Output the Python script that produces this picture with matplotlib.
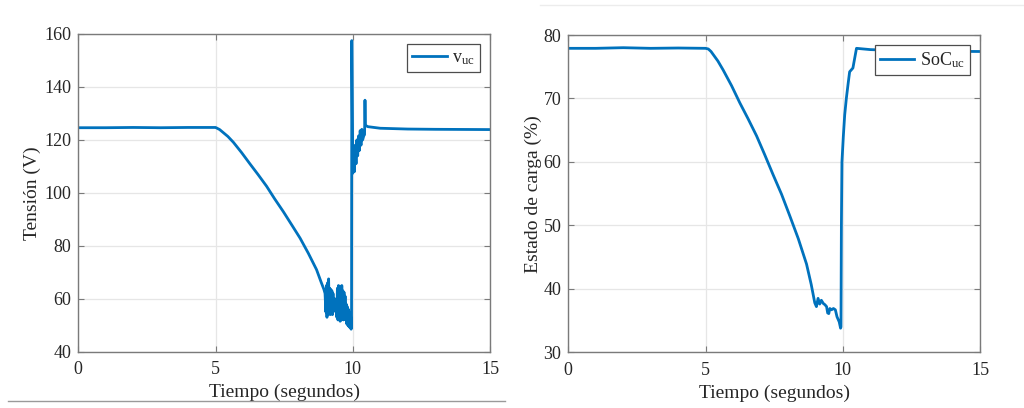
import matplotlib
matplotlib.use("Agg")
import matplotlib.pyplot as plt
from matplotlib.lines import Line2D

plt.rcParams['font.family'] = ['Liberation Serif', 'DejaVu Serif']
plt.rcParams['mathtext.fontset'] = 'custom'
plt.rcParams['mathtext.rm'] = 'Liberation Serif'
plt.rcParams['mathtext.it'] = 'Liberation Serif:italic'

# ---- Left panel: voltage ----
t_v = [0, 1, 2, 3, 4, 5.0, 5.04, 5.15, 5.3, 5.45, 5.65, 5.95, 6.25, 6.55, 6.86, 7.15,
       7.47, 7.77, 8.08, 8.38, 8.68, 8.85, 8.95,
       8.99, 9.02, 9.04, 9.06, 9.08, 9.10, 9.12, 9.14, 9.16, 9.18, 9.20, 9.22, 9.24,
       9.26, 9.28, 9.30, 9.32, 9.34, 9.36, 9.38, 9.40, 9.42, 9.44, 9.46, 9.48, 9.50,
       9.52, 9.54, 9.56, 9.58, 9.60, 9.62, 9.64, 9.66, 9.68, 9.70, 9.72, 9.74, 9.76,
       9.78, 9.80, 9.82, 9.84, 9.86, 9.88, 9.90, 9.92, 9.94, 9.955,
       9.965, 10.0, 10.03, 10.06, 10.09, 10.12, 10.15, 10.18, 10.21, 10.24, 10.27,
       10.30, 10.33, 10.36, 10.40, 10.43, 10.445, 10.46, 10.55, 11, 12, 13, 15]
v_uc = [124.6, 124.6, 124.7, 124.6, 124.7, 124.7, 124.5, 123.9, 122.6, 121.3, 119.1,
        115.2, 111.0, 106.9, 102.5, 97.8, 92.9, 88.0, 82.9, 77.2, 71.0, 66.2, 63.5,
        62, 55, 65, 53, 66, 54, 67.5, 55, 64, 54, 63.5, 55.5, 63,
        54, 62, 56, 60, 57.5, 59, 55, 60, 53, 64, 52, 65, 52.5,
        64.5, 51.5, 64, 52, 65, 53, 63, 52, 62.5, 53, 61, 52, 58,
        50.5, 57, 50, 56, 49.5, 55, 49, 54, 48.5, 50,
        157.5, 107.4, 112, 108, 118, 111, 120, 114, 121.5, 116, 123.5,
        118, 124, 120, 121.5, 122, 135, 125.5, 125, 124.4, 124.1, 124.0, 123.9]

# ---- Right panel: state of charge ----
t_soc = [0, 1, 2, 3, 4, 5, 5.1, 5.2, 5.3, 5.45, 5.64, 5.95, 6.25, 6.55, 6.86, 7.15,
         7.46, 7.77, 8.07, 8.38, 8.68, 8.85, 8.98,
         9.04, 9.10, 9.16, 9.22, 9.29, 9.35, 9.41, 9.45, 9.49, 9.53, 9.59, 9.66,
         9.73, 9.79, 9.87, 9.92, 9.935, 9.95, 9.97, 10.02, 10.07, 10.13, 10.2,
         10.25, 10.37, 10.42, 10.5, 11, 12, 13, 15]
soc_uc = [77.9, 77.9, 78.0, 77.9, 77.95, 77.9, 77.8, 77.4, 76.8, 75.9, 74.5, 72.0,
          69.3, 66.8, 64.1, 61.2, 58.0, 54.9, 51.5, 47.9, 43.9, 40.7, 37.8,
          37.2, 38.5, 37.6, 38.2, 37.7, 37.5, 37.2, 36.2, 36.1, 36.9, 36.7, 36.9,
          36.7, 35.6, 34.8, 33.8, 34.0, 50, 60, 64, 67.4, 70, 72.5,
          74.2, 74.8, 76, 77.9, 77.7, 77.55, 77.45, 77.4]

x_ticks = [0, 5, 10, 15]
v_ticks = [40, 60, 80, 100, 120, 140, 160]
soc_ticks = [30, 40, 50, 60, 70, 80]

line_color = '#0072BD'
spine_color = '#7a7a7a'
text_color = '#262626'

fig = plt.figure(figsize=(10.24, 4.08), dpi=100)
ax1 = fig.add_axes([78.3 / 1024, (408 - 351.7) / 408, (490 - 78.3) / 1024, (351.7 - 34) / 408])
ax2 = fig.add_axes([568.3 / 1024, (408 - 352.3) / 408, (980 - 568.3) / 1024, (352.3 - 35) / 408])


def style(ax, yticks):
    ax.set_xlim(0, 15)
    ax.set_ylim(yticks[0], yticks[-1])
    ax.set_xticks(x_ticks)
    ax.set_yticks(yticks)
    ax.grid(True, color='#e6e6e6', linewidth=0.9)
    ax.set_axisbelow(True)
    for s in ax.spines.values():
        s.set_color(spine_color)
        s.set_linewidth(1.0)
    ax.tick_params(direction='in', length=4, width=0.8, color=spine_color,
                   labelcolor=text_color, labelsize=13, top=True, right=True)
    ax.tick_params(axis='x', pad=7)
    ax.tick_params(axis='y', pad=5)
    ax.set_xlabel('Tiempo (segundos)', fontsize=14, color=text_color, labelpad=4)


style(ax1, v_ticks)
ax1.plot(t_v, v_uc, color=line_color, linewidth=2.0, label=r'v$_{\mathrm{uc}}$')
ax1.set_ylabel('Tensión (V)', fontsize=14, color=text_color, labelpad=2.5)

style(ax2, soc_ticks)
ax2.plot(t_soc, soc_uc, color=line_color, linewidth=2.0, label=r'SoC$_{\mathrm{uc}}$')
ax2.set_ylabel('Estado de carga (%)', fontsize=14, color=text_color, labelpad=1)

for ax in (ax1, ax2):
    leg = ax.legend(loc='upper right', fontsize=13, fancybox=False, framealpha=1,
                    edgecolor='#4d4d4d', handlelength=1.9, borderaxespad=0.55,
                    borderpad=0.3, handletextpad=0.3)
    leg.get_frame().set_linewidth(0.9)
    for txt in leg.get_texts():
        txt.set_color(text_color)

# decorative separator lines seen in the reference
fig.add_artist(Line2D([8 / 1024, 505 / 1024], [1 - 401 / 408, 1 - 401 / 408],
                      color='#9a9a9a', linewidth=1.0))
fig.add_artist(Line2D([540 / 1024, 1.0], [1 - 5 / 408, 1 - 5 / 408],
                      color='#ececec', linewidth=1.0))

fig.savefig('out.png', dpi=100)
